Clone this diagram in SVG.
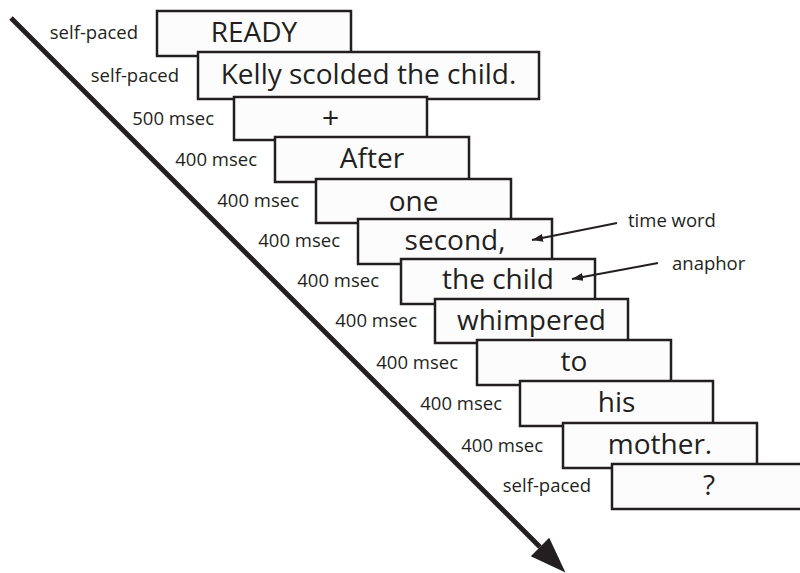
<svg xmlns="http://www.w3.org/2000/svg" width="800" height="573" viewBox="0 0 800 573">
  <style>
    .box { fill: #fcfcfc; stroke: #231f20; stroke-width: 2.5; }
    .word { font-family: "Open Sans", "Liberation Sans", sans-serif; font-size: 28px; fill: #231f20; text-anchor: middle; }
    .lab { font-family: "Open Sans", "Liberation Sans", sans-serif; font-size: 18.5px; fill: #231f20; text-anchor: end; }
    .note { font-family: "Open Sans", "Liberation Sans", sans-serif; font-size: 18.5px; fill: #231f20; }
    .ptr { stroke: #231f20; stroke-width: 2.2; fill: none; }
    .time { stroke: #231f20; stroke-width: 5; fill: none; }
  </style>
  <defs>
    <marker id="smallHead" markerUnits="userSpaceOnUse" markerWidth="11" markerHeight="8" refX="11" refY="4" orient="auto">
      <path d="M0,0 L11,4 L0,8 z" fill="#231f20"/>
    </marker>
    <marker id="bigHead" markerUnits="userSpaceOnUse" markerWidth="36" markerHeight="26" refX="0" refY="13" orient="auto" overflow="visible">
      <path d="M0,0 L36,13 L0,26 z" fill="#231f20"/>
    </marker>
  </defs>
  <rect width="800" height="573" fill="#ffffff"/>

  <g id="n1">
    <text class="lab" x="138" y="39">self-paced</text>
    <rect class="box" x="157" y="11" width="194" height="45"/>
    <text class="word" x="254" y="42">READY</text>
  </g>
  <g id="n2">
    <text class="lab" x="179" y="82">self-paced</text>
    <rect class="box" x="198" y="52" width="341" height="47"/>
    <text class="word" x="368.5" y="84">Kelly scolded the child.</text>
  </g>
  <g id="n3">
    <text class="lab" x="214" y="125">500 msec</text>
    <rect class="box" x="234" y="97" width="193" height="43"/>
    <text class="word" x="330.5" y="128" style="font-size:30px">+</text>
  </g>
  <g id="n4">
    <text class="lab" x="257" y="166">400 msec</text>
    <rect class="box" x="275" y="137" width="194" height="45"/>
    <text class="word" x="372" y="168">After</text>
  </g>
  <g id="n5">
    <text class="lab" x="299" y="207">400 msec</text>
    <rect class="box" x="316" y="179" width="195" height="44"/>
    <text class="word" x="413.5" y="211">one</text>
  </g>
  <g id="n6">
    <text class="lab" x="340" y="247">400 msec</text>
    <rect class="box" x="358" y="219" width="194" height="45"/>
    <text class="word" x="455" y="250">second,</text>
  </g>
  <g id="n7">
    <text class="lab" x="379" y="287">400 msec</text>
    <rect class="box" x="401" y="259" width="194" height="45"/>
    <text class="word" x="498" y="289">the child</text>
  </g>
  <g id="n8">
    <text class="lab" x="417" y="327">400 msec</text>
    <rect class="box" x="435" y="299" width="193" height="44"/>
    <text class="word" x="531.5" y="330">whimpered</text>
  </g>
  <g id="n9">
    <text class="lab" x="458" y="369">400 msec</text>
    <rect class="box" x="477" y="340" width="194" height="45"/>
    <text class="word" x="574" y="371">to</text>
  </g>
  <g id="n10">
    <text class="lab" x="502" y="410">400 msec</text>
    <rect class="box" x="520" y="381" width="193" height="45"/>
    <text class="word" x="616.5" y="412">his</text>
  </g>
  <g id="n11">
    <text class="lab" x="543" y="452">400 msec</text>
    <rect class="box" x="563" y="423" width="194" height="45"/>
    <text class="word" x="660" y="454">mother.</text>
  </g>
  <g id="n12">
    <text class="lab" x="591" y="492">self-paced</text>
    <rect class="box" x="612" y="464" width="194" height="45"/>
    <text class="word" x="709" y="495">?</text>
  </g>

  <g id="annotations">
    <text class="note" x="628" y="227">time word</text>
    <text class="note" x="672" y="270">anaphor</text>
  </g>

  <g id="connectors">
    <line class="time" x1="11" y1="18" x2="540" y2="547" marker-end="url(#bigHead)"/>
    <line class="ptr" x1="617" y1="223" x2="532" y2="240" marker-end="url(#smallHead)"/>
    <line class="ptr" x1="658" y1="263" x2="572" y2="279" marker-end="url(#smallHead)"/>
  </g>
</svg>
